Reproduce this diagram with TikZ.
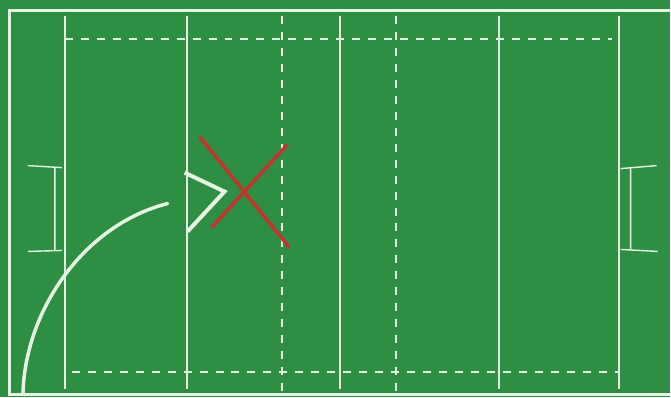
\documentclass[tikz,border=0pt]{standalone}
\usepackage{tikz}

\begin{document}
\begin{tikzpicture}[x=1pt,y=-1pt]
  \definecolor{pitch}{HTML}{2E8E43}
  \definecolor{chalk}{HTML}{E6F2E2}
  \definecolor{cross}{HTML}{C4332D}
  \tikzset{
    fieldline/.style={chalk, line width=2pt},
    dashline/.style={chalk, line width=1.8pt, dash pattern=on 8pt off 8pt},
    postline/.style={chalk, line width=1.4pt}
  }

  \fill[pitch] (0,0) rectangle (671,398);
  % boundary
  \draw[chalk, line width=3pt] (671,11) -- (10,11) -- (10,395) -- (671,395);
  % try lines, 22 m lines, halfway line
  \foreach \x in {65,187,341,500,620} {
    \draw[fieldline] (\x,16) -- (\x,390);
  }
  % 10 m lines
  \foreach \x in {283,397} {
    \draw[dashline] (\x,16) -- (\x,392);
  }
  % 5 m lines
  \draw[dashline] (65,39) -- (613,39);
  \draw[dashline] (72,373) -- (620,373);
  % goal posts
  \draw[postline] (28,166) -- (62,168) (55,168) -- (55,251) (28,252) -- (62,251);
  \draw[postline] (658,166) -- (622,169) (632,169) -- (632,251) (659,252) -- (622,250);

  % run of play
  \draw[chalk, line width=3.5pt, line cap=round] (23,395) .. controls (25,310) and (85,225) .. (168,204);
  \draw[chalk, line width=4pt, miter limit=10] (185,173) -- (225,192) -- (188,232);
  \draw[cross, line width=3.5pt] (200,137) -- (290,248);
  \draw[cross, line width=3.5pt] (288,145) -- (212,228);
\end{tikzpicture}
\end{document}
